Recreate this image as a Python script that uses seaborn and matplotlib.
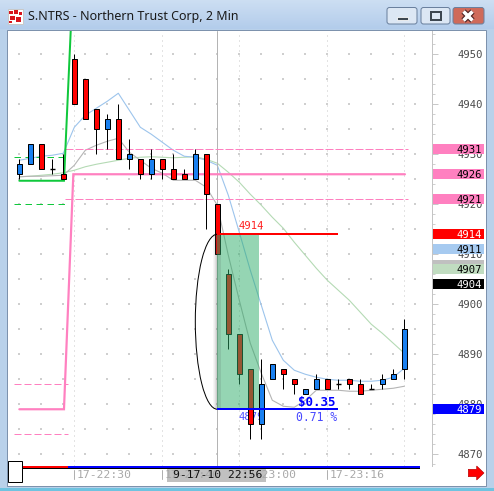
import matplotlib
matplotlib.use("Agg")
import numpy as np
import pandas as pd
import matplotlib.pyplot as plt
from matplotlib.patches import Rectangle, Arc, Polygon, FancyBboxPatch
from matplotlib.transforms import blended_transform_factory, ScaledTranslation
import seaborn as sns

sns.set_style("white")
plt.rcParams["font.family"] = ["DejaVu Sans"]

W, H = 494, 491
PX = 72 / 100  # one screen pixel in points

# ---------------- 2-minute bars (price in cents) ----------------
bar_open = [4926, 4928, 4932, 4927, 4926, 4949, 4945, 4939, 4935, 4937, 4929, 4929,
            4926, 4929, 4927, 4926, 4925, 4930, 4920, 4906, 4894, 4887, 4876, 4885,
            4887, 4885, 4882, 4883, 4885, 4884, 4885, 4884, 4883, 4884, 4885, 4887]
bar_high = [4929, 4932, 4932, 4929, 4930, 4950, 4945, 4939, 4938, 4940, 4933, 4929,
            4931, 4929, 4930, 4927, 4931, 4930, 4920, 4907, 4894, 4887, 4889, 4888,
            4887, 4885, 4883, 4886, 4885, 4885, 4885, 4885, 4884, 4886, 4887, 4897]
bar_low = [4925, 4928, 4927, 4926, 4925, 4940, 4937, 4930, 4931, 4929, 4927, 4925,
           4925, 4925, 4925, 4925, 4925, 4915, 4910, 4891, 4884, 4873, 4873, 4885,
           4883, 4882, 4882, 4883, 4883, 4883, 4883, 4882, 4883, 4883, 4885, 4885]
bar_close = [4928, 4932, 4927, 4927, 4925, 4940, 4937, 4935, 4937, 4929, 4930, 4926,
             4929, 4927, 4925, 4925, 4930, 4922, 4910, 4894, 4886, 4876, 4884, 4888,
             4886, 4884, 4883, 4885, 4883, 4884, 4884, 4882, 4883, 4885, 4886, 4895]

# moving averages
ma_fast = [4928.8, 4929.2, 4929.6, 4929.8, 4930.2, 4935.4, 4937.8, 4939.2, 4940.6, 4942.2,
           4938.8, 4935.4, 4934.0, 4932.4, 4930.8, 4929.6, 4929.4, 4928.8, 4927.8, 4921.8,
           4914.4, 4906.8, 4899.8, 4892.8, 4888.8, 4886.8, 4886.0, 4885.4, 4885.0, 4884.8,
           4884.8, 4884.6, 4884.6, 4884.8, 4885.4, 4887.2]
ma_mid = [4925.5, 4925.6, 4925.6, 4925.7, 4925.8, 4927.8, 4930.8, 4931.8, 4932.6, 4933.2,
          4930.4, 4928.8, 4927.2, 4926.2, 4924.8, 4924.8, 4924.8, 4923.4, 4919.8, 4909.8,
          4900.8, 4892.2, 4886.2, 4880.8, 4879.6, 4879.4, 4880.8, 4882.8, 4882.8, 4882.8,
          4882.6, 4882.6, 4882.8, 4883.0, 4883.2, 4883.6]
ma_slow = [4925.5, 4925.6, 4925.8, 4926.0, 4926.3, 4926.8, 4927.5, 4928.0, 4928.4, 4928.8,
           4929.2, 4929.4, 4929.5, 4929.4, 4929.3, 4929.4, 4929.5, 4929.0, 4928.2, 4926.4,
           4924.4, 4922.0, 4919.8, 4917.4, 4915.2, 4912.4, 4909.8, 4907.2, 4904.8, 4902.8,
           4900.8, 4898.4, 4896.0, 4894.2, 4892.2, 4890.2]

# axis labels
price_ticks = [4870, 4880, 4890, 4900, 4910, 4920, 4930, 4940, 4950]
time_ticks = [5, 13, 20, 28]
time_labels = ["17-22:30", "17-22:46", "17-23:00", "17-23:16"]
cursor_bar = 18
cursor_label = "9-17-10 22:56"

# measured move drawn from the 4914 high to the 4879 low
move_high, move_low = 4914, 4879
move_first_bar, move_last_bar = 18, 21.8
move_line_end = 29
move_amount = "$0.35"
move_percent = "0.71 %"

# hand-drawn study lines
green_trend_x = [0, 4.06, 4.72]
green_trend_y = [4924.7, 4924.7, 4957]
pink_trend_x = [0, 4.06, 4.91, 35.06]
pink_trend_y = [4879, 4879, 4926, 4926]
pink_dash_levels = [4931, 4921]
green_dash_levels = [4929.5, 4920]
pink_short_levels = [4884, 4874]

# right-hand price flags
flag_values = [4931, 4926, 4921, 4914, 4911, 4907.8, 4907, 4904, 4879]
flag_texts = ["4931", "4926", "4921", "4914", "4911", "", "4907", "4904", "4879"]
flag_faces = ["#ff80c0", "#ff80c0", "#ff80c0", "#ff0000", "#a6caf0", "#c0c0c0",
              "#c0dcc0", "#000000", "#0000ff"]
flag_inks = ["black", "black", "black", "white", "black", "black", "black", "white", "white"]

RED = "#ff0000"
BLUE = "#1a80f0"
MONO = "DejaVu Sans Mono"

fig = plt.figure(figsize=(W / 100, H / 100), dpi=100)

# ---------------- window frame (pixel coordinates) ----------------
bg = fig.add_axes([0, 0, 1, 1], zorder=0)
bg.axis("off")
bg.add_patch(Rectangle((0, 0), W, H, facecolor="#b9d1ea", edgecolor="none"))
top_c = np.array([0.80, 0.87, 0.95])
bot_c = np.array([0.70, 0.80, 0.92])
for k in range(29):
    t = k / 28
    bg.add_patch(Rectangle((0, k), W, 1, facecolor=tuple(top_c * (1 - t) + bot_c * t),
                           edgecolor="none"))
bg.add_patch(Rectangle((0, 488), W, 3, facecolor="#6fc3e0", edgecolor="none"))
bg.add_patch(Rectangle((7, 30), 479, 456, facecolor="white", edgecolor="#7d92ad", lw=PX))

# title icon
bg.add_patch(Rectangle((8, 9), 15, 15, facecolor="white", edgecolor="#c8c8c8", lw=PX))
for (ix, iy, iw, ih) in [(9, 11, 4, 3), (14, 10, 4, 4), (19, 12, 3, 3), (10, 16, 5, 4),
                         (16, 17, 5, 5), (9, 21, 3, 2)]:
    bg.add_patch(Rectangle((ix, iy), iw, ih, facecolor="#d8141c", edgecolor="none"))
bg.text(28, 16.5, "S.NTRS - Northern Trust Corp, 2 Min", fontsize=9,
        family="Noto Sans", color="#1a1a1a", va="center", ha="left")

# caption buttons
for bx, bw, face in [(387, 30, "#dce7f4"), (421, 29, "#dce7f4"), (453, 31, "#cf6a5a")]:
    bg.add_patch(FancyBboxPatch((bx, 7.5), bw, 16.5, boxstyle="round,pad=0,rounding_size=2.5",
                                facecolor=face, edgecolor="#6a809e", lw=PX))
bg.add_patch(Rectangle((397, 16.5), 11, 3, facecolor="#3c4650", edgecolor="white", lw=PX * 0.8))
bg.add_patch(Rectangle((431, 11.5), 10, 8, facecolor="none", edgecolor="#3c4650", lw=PX * 2))
bg.plot([463.5, 472.5], [11.5, 20.5], color="#4a2020", lw=4.2, solid_capstyle="butt")
bg.plot([463.5, 472.5], [20.5, 11.5], color="#4a2020", lw=4.2, solid_capstyle="butt")
bg.plot([463.5, 472.5], [11.5, 20.5], color="white", lw=2.6, solid_capstyle="butt")
bg.plot([463.5, 472.5], [20.5, 11.5], color="white", lw=2.6, solid_capstyle="butt")
bg.set_xlim(0, W)
bg.set_ylim(H, 0)

# ---------------- price chart ----------------
ax = fig.add_axes([8 / W, (H - 466) / H, 424 / W, 435 / H], zorder=1)
ax.patch.set_alpha(0)
ax.set_xlim(-1.03, 37.52)
ax.set_ylim(4867.65, 4954.65)

idx = np.arange(len(bar_open))
o = np.array(bar_open, float)
hi = np.array(bar_high, float)
lo = np.array(bar_low, float)
c = np.array(bar_close, float)

# dotted background grid
gx, gy = np.meshgrid(np.arange(0, 38, 2), np.arange(4870, 4955, 5))
ax.scatter(gx.ravel(), gy.ravel(), s=0.7, marker="s", color="#cfcfcf", linewidths=0, zorder=1)
ax.vlines(time_ticks + [35], 4867.65, 4954.65, color="#c8c8c8", lw=PX,
          linestyles=[(0, (1, 4))], zorder=1)
ax.axvline(cursor_bar, color="#b4b4b4", lw=PX, zorder=2.2)

# moving averages
ma = pd.DataFrame({"bar": idx, "fast": ma_fast, "mid": ma_mid, "slow": ma_slow})
sns.lineplot(data=ma, x="bar", y="slow", ax=ax, color="#b4dab4", lw=PX * 1.1, zorder=2)
sns.lineplot(data=ma, x="bar", y="mid", ax=ax, color="#b4b4b4", lw=PX * 1.1, zorder=2)
sns.lineplot(data=ma, x="bar", y="fast", ax=ax, color="#9cc4ec", lw=PX * 1.1, zorder=2)

# study lines
ax.plot(green_trend_x, green_trend_y, color="#10c83c", lw=PX * 2, zorder=2.5,
        solid_joinstyle="miter")
ax.plot(pink_trend_x, pink_trend_y, color="#ff80c0", lw=PX * 2.2, zorder=2.5,
        solid_joinstyle="miter")
ax.hlines(pink_dash_levels, 4.15, 35.3, color="#ff80c0", lw=PX,
          linestyles=[(0, (8, 2))], zorder=2.4)
ax.hlines(green_dash_levels, -0.48, 4.3, color="#10c83c", lw=PX,
          linestyles=[(0, (6.5, 4.5))], zorder=2.4)
ax.hlines(pink_short_levels, -0.48, 4.4, color="#ff80c0", lw=PX,
          linestyles=[(0, (7, 3))], zorder=2.4)

# candlesticks
up, down, flat = c > o, c < o, c == o
ax.vlines(idx, lo, hi, color="black", lw=PX, zorder=3)
ax.bar(idx[up], (c - o)[up], bottom=o[up], width=0.42, color=BLUE,
       edgecolor="black", linewidth=PX, zorder=3.5)
ax.bar(idx[down], (o - c)[down], bottom=c[down], width=0.42, color=RED,
       edgecolor="black", linewidth=PX, zorder=3.5)
ax.hlines(o[flat], idx[flat] - 0.25, idx[flat] + 0.25, color="black", lw=PX * 1.4, zorder=3.5)

# measured-move box with its shadow and bracket
span = move_last_bar - move_first_bar
height = move_high - move_low
for k, a in enumerate([0.28, 0.18, 0.10, 0.05]):
    ax.add_patch(Rectangle((move_first_bar - (k + 1) * 0.09, move_low), 0.09, height,
                           facecolor="#505050", alpha=a, edgecolor="none", zorder=4.5))
ax.add_patch(Rectangle((move_first_bar, move_low), span, height, facecolor="#2dad69",
                       alpha=0.5, edgecolor="none", zorder=5))
ax.add_patch(Rectangle((move_first_bar, move_low), 0.3, height, facecolor="#404040",
                       alpha=0.12, edgecolor="none", zorder=5.1))
ax.add_patch(Arc((move_first_bar, (move_high + move_low) / 2), 4.0, height,
                 theta1=90, theta2=270, color="black", lw=PX, zorder=5))
ax.hlines(move_high, move_first_bar, move_line_end, color="#ff0000", lw=PX * 2, zorder=6)
ax.hlines(move_low, move_first_bar, move_line_end, color="#0000ff", lw=PX * 2, zorder=6)
ax.text(21.1, move_high + 1.6, str(move_high), color="#ff2020", fontsize=7.6,
        family=MONO, ha="center", va="center", zorder=6)
ax.text(21.1, move_low - 1.5, str(move_low), color="#5050ff", fontsize=7.6,
        family=MONO, ha="center", va="center", zorder=2.6)
ax.text(27.05, move_low + 1.4, move_amount, color="#0000ff", fontsize=9,
        family=MONO, weight="bold", ha="center", va="center", zorder=6)
ax.text(27.0, move_low - 1.6, move_percent, color="#4848ff", fontsize=8.3,
        family=MONO, ha="center", va="center", zorder=6)

# right price axis
for side in ["left", "top", "bottom"]:
    ax.spines[side].set_visible(False)
ax.spines["right"].set_color("#c4c4c4")
ax.spines["right"].set_linewidth(PX)
ax.yaxis.tick_right()
ax.set_yticks(price_ticks)
ax.set_yticklabels([str(p) for p in price_ticks])
ax.set_yticks(np.arange(4868, 4955, 2), minor=True)
ax.tick_params(axis="y", which="major", length=4, width=PX, color="#c8c8c8",
               pad=33, labelsize=7.6, labelcolor="#4a4a4a")
ax.tick_params(axis="y", which="minor", length=2.5, width=PX, color="#d0d0d0")
for lab in ax.get_yticklabels():
    lab.set_horizontalalignment("right")
    lab.set_family(MONO)
ax.set_xticks([])
ax.set_xlabel("")
ax.set_ylabel("")

flag_tf = blended_transform_factory(ax.transAxes, ax.transData)
for v, t, fc, ink in zip(flag_values, flag_texts, flag_faces, flag_inks):
    ax.add_patch(Rectangle((1 + 1 / 424, v - 0.97), 50.5 / 424, 1.94, transform=flag_tf,
                           facecolor=fc, edgecolor="none", clip_on=False, zorder=6))
    if t:
        ax.text(1 + 50 / 424, v - 0.1, t, transform=flag_tf, ha="right", va="center",
                fontsize=7.6, family=MONO, color=ink, clip_on=False, zorder=7)

# ---------------- time strip and overlays ----------------
fg = fig.add_axes([0, 0, 1, 1], zorder=2)
fg.axis("off")
fg.set_xlim(0, W)
fg.set_ylim(H, 0)
time_tf = blended_transform_factory(ax.transData, fg.transData)
shift = ScaledTranslation(2.5 / 100, 0, fig.dpi_scale_trans)
for tb, tl in zip(time_ticks, time_labels):
    fg.plot([tb, tb], [470, 479], color="#b0b0b0", lw=PX, transform=time_tf)
    fg.text(tb, 475.5, tl, transform=time_tf + shift, ha="left", va="center",
            fontsize=8.2, family=MONO, color="#a8a8a8")
fg.add_patch(Rectangle((cursor_bar - 4.6, 469), 9.0, 13, transform=time_tf,
                       facecolor="#c0c0c0", edgecolor="none"))
fg.text(cursor_bar, 475.5, cursor_label, transform=time_tf, ha="center", va="center",
        fontsize=8.2, family=MONO, color="#111111")

fg.add_patch(Rectangle((22, 465.5), 46, 2, facecolor="#ff0000", edgecolor="none"))
fg.add_patch(Rectangle((68, 465.5), 352, 2, facecolor="#0000ff", edgecolor="none"))
fg.add_patch(Rectangle((22, 467.5), 398, 1.3, facecolor="black", edgecolor="none"))
fg.add_patch(Rectangle((8.3, 461.3), 13.4, 20.4, facecolor="white", edgecolor="black", lw=PX))
fg.add_patch(Polygon([(468.3, 469.3), (476.7, 469.3), (476.7, 466), (484, 473),
                      (476.7, 480), (476.7, 476.7), (468.3, 476.7)],
                     closed=True, facecolor="#ff0000", edgecolor="#b00000", lw=PX * 0.6))

fig.savefig("out.png", dpi=100)
